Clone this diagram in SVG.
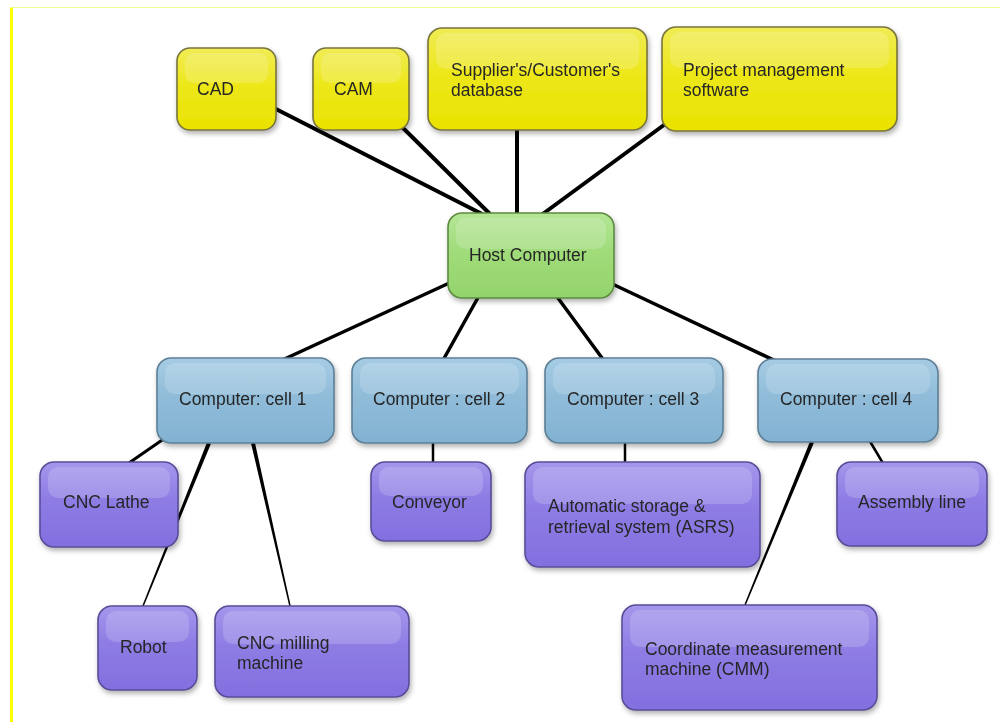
<svg xmlns="http://www.w3.org/2000/svg" width="1000" height="722" viewBox="0 0 1000 722">
<defs>
<style>
.t{font-family:"Liberation Sans",Arial,sans-serif;font-size:17.5px;fill:#262626}
.bd{stroke-width:1.6}
.y{fill:url(#gy);stroke:#78743c}
.g{fill:url(#gg);stroke:#5c8a40}
.b{fill:url(#gb);stroke:#5d7f96}
.p{fill:url(#gp);stroke:#5a4c98}
.hl{fill:#ffffff;opacity:0.17}
.ln{stroke:#000;fill:none;stroke-linecap:round}
</style>
<linearGradient id="gy" x1="0" y1="0" x2="0" y2="1"><stop offset="0" stop-color="#F0EC55"/><stop offset="0.45" stop-color="#EDE71A"/><stop offset="1" stop-color="#EAE300"/></linearGradient>
<linearGradient id="gg" x1="0" y1="0" x2="0" y2="1"><stop offset="0" stop-color="#B4E696"/><stop offset="0.45" stop-color="#A0DC7A"/><stop offset="1" stop-color="#94D46C"/></linearGradient>
<linearGradient id="gb" x1="0" y1="0" x2="0" y2="1"><stop offset="0" stop-color="#A6CCE4"/><stop offset="0.45" stop-color="#90BCD9"/><stop offset="1" stop-color="#82B2D2"/></linearGradient>
<linearGradient id="gp" x1="0" y1="0" x2="0" y2="1"><stop offset="0" stop-color="#A596EC"/><stop offset="0.45" stop-color="#8E7CE4"/><stop offset="1" stop-color="#836FDF"/></linearGradient>
<filter id="sh" x="-10%" y="-10%" width="125%" height="130%"><feDropShadow dx="1.5" dy="3" stdDeviation="2.5" flood-color="#000" flood-opacity="0.3"/></filter>
</defs>
<rect width="1000" height="722" fill="#ffffff"/>
<rect x="10" y="7" width="3" height="715" fill="#FFFF00"/>
<rect x="10" y="7" width="990" height="1" fill="#F2FF90"/>

<g id="connectors">
<line class="ln" x1="270" y1="106" x2="486" y2="216" stroke-width="4"/>
<line class="ln" x1="400" y1="125" x2="492" y2="216" stroke-width="4"/>
<line class="ln" x1="517" y1="125" x2="517" y2="216" stroke-width="4"/>
<line class="ln" x1="668" y1="122" x2="540" y2="216" stroke-width="4"/>
<line class="ln" x1="458" y1="279" x2="278" y2="362" stroke-width="3.5"/>
<line class="ln" x1="480" y1="294" x2="442" y2="362" stroke-width="3.5"/>
<line class="ln" x1="555" y1="294" x2="605" y2="362" stroke-width="3.5"/>
<line class="ln" x1="606" y1="281" x2="780" y2="363" stroke-width="3.5"/>
<line class="ln" x1="168" y1="436" x2="126" y2="465" stroke-width="3"/>
<path d="M210.9,443.7 L143.7,606.3 L142.3,605.7 L207.1,442.3 Z" fill="#000"/>
<path d="M254.9,442.6 L290.7,605.8 L289.3,606.2 L251.1,443.4 Z" fill="#000"/>
<path d="M813.9,442.7 L745.7,605.3 L744.3,604.7 L810.1,441.3 Z" fill="#000"/>
<line class="ln" x1="433" y1="440" x2="433" y2="465" stroke-width="2.5"/>
<line class="ln" x1="625" y1="440" x2="625" y2="465" stroke-width="2.5"/>
<line class="ln" x1="868" y1="438" x2="884" y2="465" stroke-width="2.5"/>
</g>

<g id="node-cad" filter="url(#sh)">
<rect class="y bd" x="177" y="48" width="99" height="82" rx="13"/>
<rect class="hl" x="185" y="53" width="83" height="30" rx="9"/>
<text class="t" x="197" y="95">CAD</text>
</g>
<g id="node-cam" filter="url(#sh)">
<rect class="y bd" x="313" y="48" width="96" height="82" rx="13"/>
<rect class="hl" x="321" y="53" width="80" height="30" rx="9"/>
<text class="t" x="334" y="95">CAM</text>
</g>
<g id="node-database" filter="url(#sh)">
<rect class="y bd" x="428" y="28" width="219" height="102" rx="14"/>
<rect class="hl" x="436" y="33" width="203" height="36" rx="10"/>
<text class="t" x="451" y="76">Supplier's/Customer's</text>
<text class="t" x="451" y="96">database</text>
</g>
<g id="node-project" filter="url(#sh)">
<rect class="y bd" x="662" y="27" width="235" height="104" rx="14"/>
<rect class="hl" x="670" y="32" width="219" height="36" rx="10"/>
<text class="t" x="683" y="76">Project management</text>
<text class="t" x="683" y="96">software</text>
</g>
<g id="node-host" filter="url(#sh)">
<rect class="g bd" x="448" y="213" width="166" height="85" rx="14"/>
<rect class="hl" x="456" y="218" width="150" height="31" rx="10"/>
<text class="t" x="469" y="261">Host Computer</text>
</g>
<g id="node-cell1" filter="url(#sh)">
<rect class="b bd" x="157" y="358" width="177" height="85" rx="14"/>
<rect class="hl" x="165" y="363" width="161" height="31" rx="10"/>
<text class="t" x="179" y="405">Computer: cell 1</text>
</g>
<g id="node-cell2" filter="url(#sh)">
<rect class="b bd" x="352" y="358" width="175" height="85" rx="14"/>
<rect class="hl" x="360" y="363" width="159" height="31" rx="10"/>
<text class="t" x="373" y="405">Computer : cell 2</text>
</g>
<g id="node-cell3" filter="url(#sh)">
<rect class="b bd" x="545" y="358" width="178" height="85" rx="14"/>
<rect class="hl" x="553" y="363" width="162" height="31" rx="10"/>
<text class="t" x="567" y="405">Computer : cell 3</text>
</g>
<g id="node-cell4" filter="url(#sh)">
<rect class="b bd" x="758" y="359" width="180" height="83" rx="14"/>
<rect class="hl" x="766" y="364" width="164" height="30" rx="10"/>
<text class="t" x="780" y="405">Computer : cell 4</text>
</g>
<g id="node-lathe" filter="url(#sh)">
<rect class="p bd" x="40" y="462" width="138" height="85" rx="14"/>
<rect class="hl" x="48" y="467" width="122" height="31" rx="10"/>
<text class="t" x="63" y="508">CNC Lathe</text>
</g>
<g id="node-robot" filter="url(#sh)">
<rect class="p bd" x="98" y="606" width="99" height="84" rx="14"/>
<rect class="hl" x="106" y="611" width="83" height="31" rx="10"/>
<text class="t" x="120" y="653">Robot</text>
</g>
<g id="node-milling" filter="url(#sh)">
<rect class="p bd" x="215" y="606" width="194" height="91" rx="14"/>
<rect class="hl" x="223" y="611" width="178" height="33" rx="10"/>
<text class="t" x="237" y="649">CNC milling</text>
<text class="t" x="237" y="669">machine</text>
</g>
<g id="node-conveyor" filter="url(#sh)">
<rect class="p bd" x="371" y="462" width="120" height="79" rx="14"/>
<rect class="hl" x="379" y="467" width="104" height="29" rx="10"/>
<text class="t" x="392" y="508">Conveyor</text>
</g>
<g id="node-asrs" filter="url(#sh)">
<rect class="p bd" x="525" y="462" width="235" height="105" rx="14"/>
<rect class="hl" x="533" y="467" width="219" height="37" rx="10"/>
<text class="t" x="548" y="512">Automatic storage &amp;</text>
<text class="t" x="548" y="533">retrieval system (ASRS)</text>
</g>
<g id="node-assembly" filter="url(#sh)">
<rect class="p bd" x="837" y="462" width="150" height="84" rx="14"/>
<rect class="hl" x="845" y="467" width="134" height="31" rx="10"/>
<text class="t" x="858" y="508">Assembly line</text>
</g>
<g id="node-cmm" filter="url(#sh)">
<rect class="p bd" x="622" y="605" width="255" height="105" rx="14"/>
<rect class="hl" x="630" y="610" width="239" height="37" rx="10"/>
<text class="t" x="645" y="655">Coordinate measurement</text>
<text class="t" x="645" y="675">machine (CMM)</text>
</g>
</svg>
